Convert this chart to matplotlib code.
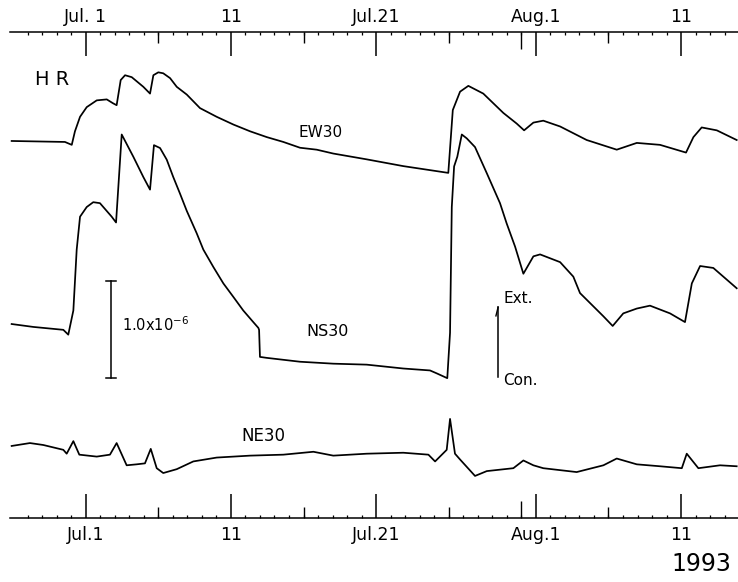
import numpy as np
import matplotlib
matplotlib.use("Agg")
import matplotlib.pyplot as plt

plt.rcParams['font.family'] = ['DejaVu Sans']

# ---- data (time in days of July 1993: Jul 1 = 1, Aug 1 = 32; strain in 1e-6) ----
days_ew = [-4.10, -0.43, 0.04, 0.26, 0.61, 1.07, 1.76, 2.45, 2.88, 3.13, 3.41, 3.71, 4.17, 4.97,
           5.43, 5.66, 6.00, 6.34, 6.81, 7.27, 7.96, 8.87, 10.02, 11.17, 12.32, 13.47, 14.61,
           15.76, 16.91, 18.05, 19.20, 20.35, 22.87, 25.97, 26.28, 26.78, 27.35, 28.38, 29.76,
           30.68, 31.19, 31.83, 32.51, 33.67, 35.50, 37.57, 38.95, 40.55, 42.34, 42.85, 43.42,
           44.46, 45.83]
ew30 = [0.00, -0.01, -0.04, 0.10, 0.25, 0.35, 0.42, 0.43, 0.39, 0.37, 0.63, 0.68, 0.66, 0.56,
        0.49, 0.68, 0.71, 0.70, 0.65, 0.56, 0.48, 0.34, 0.25, 0.17, 0.10, 0.04, -0.01,
        -0.07, -0.09, -0.13, -0.16, -0.19, -0.26, -0.33, 0.32, 0.51, 0.57, 0.49, 0.29,
        0.18, 0.11, 0.19, 0.21, 0.15, 0.01, -0.09, -0.02, -0.04, -0.12, 0.04, 0.14,
        0.11, 0.01]

days_ns = [-4.10, -2.61, -0.54, -0.20, 0.15, 0.38, 0.61, 1.07, 1.52, 1.98, 2.79, 3.09, 3.48,
           4.28, 4.97, 5.43, 5.70, 6.12, 6.58, 7.03, 7.49, 7.96, 8.64, 9.10, 9.79, 10.48, 11.17,
           11.85, 12.54, 12.89, 12.94, 13.00, 13.47, 15.76, 18.05, 20.35, 22.87, 24.71, 25.17,
           25.90, 26.09, 26.21, 26.37, 26.59, 26.90, 27.24, 27.81, 28.62, 29.53, 29.99, 30.57,
           31.14, 31.83, 32.29, 33.67, 34.58, 35.04, 36.65, 37.29, 38.02, 38.95, 39.86, 41.24,
           42.27, 42.74, 43.31, 44.22, 45.83]
ns30 = [0.00, -0.03, -0.06, -0.11, 0.14, 0.77, 1.11, 1.21, 1.26, 1.25, 1.11, 1.05, 1.96,
        1.73, 1.52, 1.39, 1.85, 1.82, 1.70, 1.52, 1.35, 1.17, 0.94, 0.77, 0.59, 0.42, 0.28,
        0.14, 0.02, -0.04, -0.06, -0.34, -0.35, -0.39, -0.41, -0.42, -0.46, -0.48, -0.51,
        -0.56, -0.09, 1.21, 1.63, 1.73, 1.96, 1.92, 1.83, 1.56, 1.25, 1.04, 0.80,
        0.52, 0.70, 0.72, 0.64, 0.49, 0.32, 0.08, -0.02, 0.11, 0.16, 0.19, 0.11,
        0.02, 0.42, 0.60, 0.58, 0.37]

days_ne = [-4.10, -2.84, -1.92, -0.54, -0.31, 0.15, 0.56, 1.76, 2.67, 3.13, 3.82, 4.51, 5.08,
           5.48, 5.89, 6.34, 7.27, 8.41, 10.02, 12.32, 14.61, 16.68, 18.05, 20.35, 22.87, 24.60,
           25.06, 25.86, 26.09, 26.43, 26.78, 27.81, 28.62, 30.45, 31.14, 31.83, 32.51, 34.81,
           36.65, 37.57, 38.95, 40.55, 42.05, 42.39, 43.19, 44.68, 45.83]
ne30 = [0.00, 0.03, 0.01, -0.04, -0.08, 0.05, -0.09, -0.11, -0.09, 0.03, -0.20, -0.19, -0.18,
        -0.03, -0.23, -0.28, -0.24, -0.16, -0.12, -0.10, -0.09, -0.06, -0.10, -0.08, -0.07, -0.09,
        -0.16, -0.04, 0.28, -0.08, -0.14, -0.31, -0.26, -0.23, -0.15, -0.20, -0.23, -0.27,
        -0.20, -0.13, -0.19, -0.21, -0.23, -0.08, -0.23, -0.20, -0.21]

major_days = [1, 11, 21, 32, 42]
top_labels = ['Jul. 1', '11', 'Jul.21', 'Aug.1', '11']
bottom_labels = ['Jul.1', '11', 'Jul.21', 'Aug.1', '11']
mid_days = [6, 16, 26, 37]
month_end_day = [31]
minor_days = list(range(-3, 46))

# ---- layout ----
OFF_EW, OFF_NS, OFF_NE = 3.899, 2.006, 0.745

fig = plt.figure(figsize=(7.38, 5.82), dpi=100)
ax = fig.add_axes([10 / 738, 64 / 582, 728 / 738, 486 / 582])
ax.set_xlim(-4.213, 45.92)
ax.set_ylim(0, 5.026)
ax.set_facecolor('white')

for s in ['left', 'right']:
    ax.spines[s].set_visible(False)
for s in ['top', 'bottom']:
    ax.spines[s].set_linewidth(1.1)
ax.set_yticks([])

ax.set_xticks(major_days, labels=bottom_labels)
ax.set_xticks(minor_days, minor=True)
ax.tick_params(axis='x', which='major', direction='in', length=17, width=1.1,
               labelsize=12.5, pad=6, bottom=True, top=False)
ax.tick_params(axis='x', which='minor', direction='in', length=2.5, width=0.9,
               bottom=True, top=False)

sec = ax.secondary_xaxis('top')
sec.set_xticks(major_days, labels=top_labels)
sec.set_xticks(minor_days, minor=True)
sec.spines['top'].set_visible(False)
sec.tick_params(axis='x', which='major', direction='in', length=17, width=1.1,
                labelsize=12.5, pad=4)
sec.tick_params(axis='x', which='minor', direction='in', length=2.5, width=0.9)

tr = ax.get_xaxis_transform()
ax.vlines(mid_days, 0, 0.022, transform=tr, color='black', lw=1.0)
ax.vlines(mid_days, 1 - 0.022, 1, transform=tr, color='black', lw=1.0)
ax.vlines(month_end_day, 0, 0.034, transform=tr, color='black', lw=1.0)
ax.vlines(month_end_day, 1 - 0.036, 1, transform=tr, color='black', lw=1.0)

# ---- curves ----
lw = 1.25
ax.plot(days_ew, np.array(ew30) + OFF_EW, color='black', lw=lw)
ax.plot(days_ns, np.array(ns30) + OFF_NS, color='black', lw=lw)
ax.plot(days_ne, np.array(ne30) + OFF_NE, color='black', lw=lw)

# ---- annotations ----
ax.text(-1.32, 4.53, 'H R', fontsize=14, ha='center', va='center')
ax.text(17.20, 3.987, 'EW30', fontsize=11, ha='center', va='center')
ax.text(17.69, 1.929, 'NS30', fontsize=11.5, ha='center', va='center')
ax.text(13.22, 0.853, 'NE30', fontsize=12, ha='center', va='center')
ax.text(3.50, 2.00, r'1.0x10$^{-6}$', fontsize=10.5, ha='left', va='center')

# scale bar of 1.0e-6
ax.plot([2.745, 2.745], [1.45, 2.45], color='black', lw=1.1)
ax.plot([2.40, 3.09], [1.45, 1.45], color='black', lw=1.1)
ax.plot([2.40, 3.09], [2.45, 2.45], color='black', lw=1.1)

# extension / contraction arrow
ax.plot([29.40, 29.40], [1.46, 2.18], color='black', lw=1.1)
ax.plot([29.40, 29.25], [2.18, 2.09], color='black', lw=1.0)
ax.text(29.74, 2.265, 'Ext.', fontsize=11, ha='left', va='center')
ax.text(29.74, 1.417, 'Con.', fontsize=11, ha='left', va='center')

fig.text(701 / 738, 1 - 564 / 582, '1993', fontsize=17, ha='center', va='center')

fig.savefig('out.png', dpi=100, facecolor='white')
